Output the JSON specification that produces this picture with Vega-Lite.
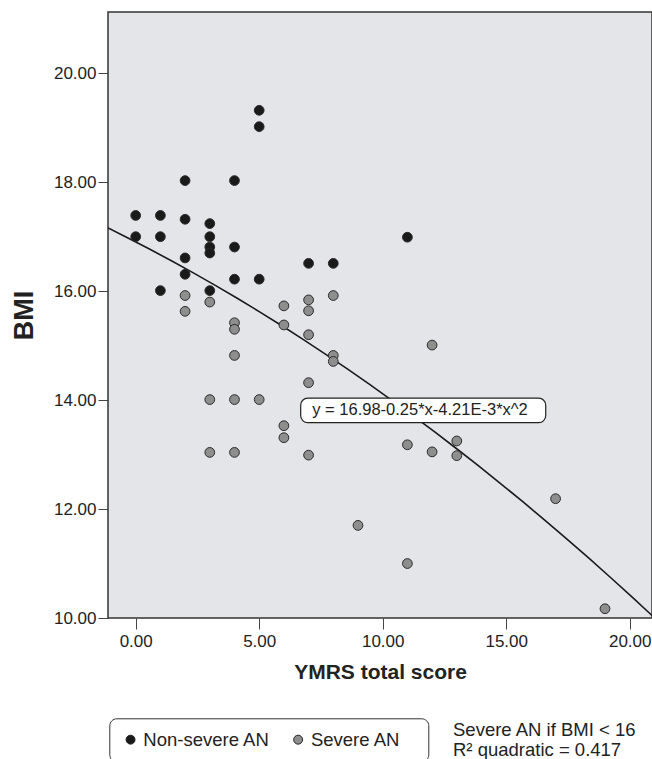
{
  "$schema": "https://vega.github.io/schema/vega-lite/v6.json",
  "width": 544,
  "height": 606,
  "autosize": "none",
  "padding": {"left": 108, "top": 12, "right": 0, "bottom": 141},
  "background": "white",
  "config": {
    "font": "Liberation Sans",
    "view": {"fill": "#e4e5e8", "stroke": "#333333", "strokeWidth": 1.5},
    "axis": {"grid": false, "domain": false, "tickColor": "#444444", "labelColor": "#222222", "labelFont": "Liberation Sans", "titleFont": "Liberation Sans", "titleColor": "#222222", "titleFontWeight": "bold"}
  },
  "title": {
    "text": ["Severe AN if BMI < 16", "R² quadratic = 0.417"],
    "orient": "bottom",
    "anchor": "start",
    "frame": "group",
    "align": "left",
    "baseline": "top",
    "dx": 345,
    "offset": -41,
    "fontSize": 18.5,
    "fontWeight": "normal",
    "lineHeight": 20,
    "font": "Liberation Sans",
    "color": "#222222"
  },
  "datasets": {
    "points": [
      {"ymrs": 0, "bmi": 17.39, "group": "Non-severe AN"},
      {"ymrs": 0, "bmi": 17.0, "group": "Non-severe AN"},
      {"ymrs": 1, "bmi": 17.39, "group": "Non-severe AN"},
      {"ymrs": 1, "bmi": 17.0, "group": "Non-severe AN"},
      {"ymrs": 1, "bmi": 16.01, "group": "Non-severe AN"},
      {"ymrs": 2, "bmi": 18.03, "group": "Non-severe AN"},
      {"ymrs": 2, "bmi": 17.32, "group": "Non-severe AN"},
      {"ymrs": 2, "bmi": 16.61, "group": "Non-severe AN"},
      {"ymrs": 2, "bmi": 16.31, "group": "Non-severe AN"},
      {"ymrs": 3, "bmi": 17.24, "group": "Non-severe AN"},
      {"ymrs": 3, "bmi": 17.0, "group": "Non-severe AN"},
      {"ymrs": 3, "bmi": 16.81, "group": "Non-severe AN"},
      {"ymrs": 3, "bmi": 16.7, "group": "Non-severe AN"},
      {"ymrs": 3, "bmi": 16.01, "group": "Non-severe AN"},
      {"ymrs": 4, "bmi": 18.03, "group": "Non-severe AN"},
      {"ymrs": 4, "bmi": 16.81, "group": "Non-severe AN"},
      {"ymrs": 4, "bmi": 16.22, "group": "Non-severe AN"},
      {"ymrs": 5, "bmi": 19.32, "group": "Non-severe AN"},
      {"ymrs": 5, "bmi": 19.02, "group": "Non-severe AN"},
      {"ymrs": 5, "bmi": 16.22, "group": "Non-severe AN"},
      {"ymrs": 7, "bmi": 16.51, "group": "Non-severe AN"},
      {"ymrs": 8, "bmi": 16.51, "group": "Non-severe AN"},
      {"ymrs": 11, "bmi": 16.99, "group": "Non-severe AN"},
      {"ymrs": 2, "bmi": 15.92, "group": "Severe AN"},
      {"ymrs": 2, "bmi": 15.63, "group": "Severe AN"},
      {"ymrs": 3, "bmi": 15.8, "group": "Severe AN"},
      {"ymrs": 3, "bmi": 14.01, "group": "Severe AN"},
      {"ymrs": 3, "bmi": 13.04, "group": "Severe AN"},
      {"ymrs": 4, "bmi": 15.42, "group": "Severe AN"},
      {"ymrs": 4, "bmi": 15.3, "group": "Severe AN"},
      {"ymrs": 4, "bmi": 14.82, "group": "Severe AN"},
      {"ymrs": 4, "bmi": 14.01, "group": "Severe AN"},
      {"ymrs": 4, "bmi": 13.04, "group": "Severe AN"},
      {"ymrs": 5, "bmi": 14.01, "group": "Severe AN"},
      {"ymrs": 6, "bmi": 15.73, "group": "Severe AN"},
      {"ymrs": 6, "bmi": 15.38, "group": "Severe AN"},
      {"ymrs": 6, "bmi": 13.53, "group": "Severe AN"},
      {"ymrs": 6, "bmi": 13.31, "group": "Severe AN"},
      {"ymrs": 7, "bmi": 15.84, "group": "Severe AN"},
      {"ymrs": 7, "bmi": 15.64, "group": "Severe AN"},
      {"ymrs": 7, "bmi": 15.2, "group": "Severe AN"},
      {"ymrs": 7, "bmi": 14.32, "group": "Severe AN"},
      {"ymrs": 7, "bmi": 12.99, "group": "Severe AN"},
      {"ymrs": 8, "bmi": 15.92, "group": "Severe AN"},
      {"ymrs": 8, "bmi": 14.82, "group": "Severe AN"},
      {"ymrs": 8, "bmi": 14.71, "group": "Severe AN"},
      {"ymrs": 9, "bmi": 11.7, "group": "Severe AN"},
      {"ymrs": 11, "bmi": 13.18, "group": "Severe AN"},
      {"ymrs": 11, "bmi": 11.0, "group": "Severe AN"},
      {"ymrs": 12, "bmi": 15.01, "group": "Severe AN"},
      {"ymrs": 12, "bmi": 13.05, "group": "Severe AN"},
      {"ymrs": 13, "bmi": 13.25, "group": "Severe AN"},
      {"ymrs": 13, "bmi": 12.98, "group": "Severe AN"},
      {"ymrs": 17, "bmi": 12.19, "group": "Severe AN"},
      {"ymrs": 19, "bmi": 10.17, "group": "Severe AN"}
    ],
    "note": [
      {"label": "y = 16.98-0.25*x-4.21E-3*x^2", "x1": 6.68, "x2": 16.6, "xt": 11.51, "y1": 14.035, "y2": 13.587, "yt": 13.81}
    ]
  },
  "layer": [
    {
      "data": {"name": "points"},
      "transform": [{"regression": "bmi", "on": "ymrs", "method": "poly", "order": 2, "extent": [-1.2, 21]}],
      "mark": {"type": "line", "color": "#1a1a1a", "strokeWidth": 1.6, "clip": true},
      "encoding": {
        "x": {
          "field": "ymrs", "type": "quantitative",
          "scale": {"domain": [-1.121, 20.903], "nice": false, "zero": false},
          "axis": {"title": "YMRS total score", "values": [0, 5, 10, 15, 20], "format": ".2f", "tickSize": 11, "labelFontSize": 17, "labelPadding": 4, "titleFontSize": 21, "titlePadding": 12}
        },
        "y": {
          "field": "bmi", "type": "quantitative",
          "scale": {"domain": [10, 21.125], "nice": false, "zero": false},
          "axis": {"title": "BMI", "values": [10, 12, 14, 16, 18, 20], "format": ".2f", "tickSize": 10, "labelFontSize": 17, "labelPadding": 2, "titleFontSize": 27, "titlePadding": 15}
        }
      }
    },
    {
      "data": {"name": "points"},
      "mark": {"type": "point", "filled": true, "size": 95, "stroke": "#2a2a2a", "strokeWidth": 1, "opacity": 1},
      "encoding": {
        "x": {"field": "ymrs", "type": "quantitative"},
        "y": {"field": "bmi", "type": "quantitative"},
        "color": {
          "field": "group", "type": "nominal",
          "scale": {"domain": ["Non-severe AN", "Severe AN"], "range": ["#1a1a1a", "#8e8e8e"]},
          "legend": {
            "title": null,
            "orient": "none",
            "legendX": 1.3,
            "legendY": 706.3,
            "direction": "horizontal",
            "symbolType": "circle",
            "symbolSize": 80,
            "symbolStrokeColor": "#222222",
            "symbolStrokeWidth": 1,
            "labelFontSize": 18.5,
            "labelFont": "Liberation Sans",
            "labelColor": "#222222",
            "labelOffset": 3.5,
            "columnPadding": 18.6,
            "padding": 12,
            "fillColor": "white",
            "strokeColor": "#333333",
            "cornerRadius": 7,
            "labelExpr": "datum.value == 'Severe AN' ? 'Severe AN\u00a0\u00a0\u00a0\u200b' : datum.label"
          }
        }
      }
    },
    {
      "data": {"name": "note"},
      "mark": {"type": "rect", "fill": "white", "stroke": "#222222", "strokeWidth": 1.2, "cornerRadius": 7},
      "encoding": {
        "x": {"field": "x1", "type": "quantitative"}, "x2": {"field": "x2"},
        "y": {"field": "y1", "type": "quantitative"}, "y2": {"field": "y2"}
      }
    },
    {
      "data": {"name": "note"},
      "mark": {"type": "text", "fontSize": 16.5, "font": "Liberation Sans", "color": "#222222", "align": "center", "baseline": "middle"},
      "encoding": {
        "x": {"field": "xt", "type": "quantitative"},
        "y": {"field": "yt", "type": "quantitative"},
        "text": {"field": "label"}
      }
    }
  ]
}
